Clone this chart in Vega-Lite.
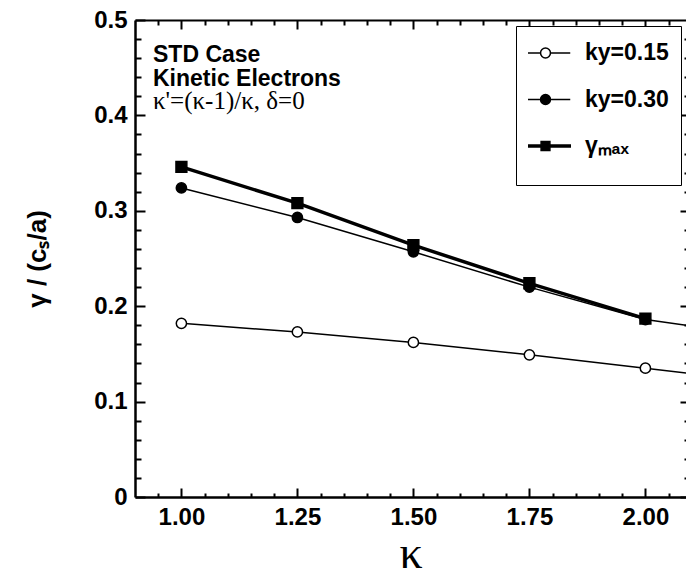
{
  "$schema": "https://vega.github.io/schema/vega-lite/v6.json",
  "width": 551,
  "height": 477,
  "autosize": "none",
  "padding": {"left": 135, "top": 20, "right": 0, "bottom": 74},
  "config": {
    "view": {"stroke": null},
    "font": "Liberation Sans",
    "axis": {
      "grid": false,
      "domainColor": "black",
      "tickColor": "black",
      "labelColor": "black",
      "titleColor": "black",
      "tickWidth": 2
    }
  },
  "title": {
    "text": ["STD Case", "Kinetic Electrons"],
    "subtitle": "κ'=(κ-1)/κ, δ=0",
    "anchor": "start",
    "frame": "group",
    "orient": "top",
    "dx": 18,
    "dy": 110,
    "font": "Liberation Sans",
    "fontSize": 23,
    "fontWeight": "bold",
    "lineHeight": 24,
    "color": "black",
    "subtitleFont": "Liberation Serif",
    "subtitleFontSize": 25,
    "subtitleColor": "black",
    "subtitlePadding": -2
  },
  "data": {
    "values": [
      {"kappa": 1.0, "gamma": 0.182, "series": "ky=0.15"},
      {"kappa": 1.25, "gamma": 0.173, "series": "ky=0.15"},
      {"kappa": 1.5, "gamma": 0.162, "series": "ky=0.15"},
      {"kappa": 1.75, "gamma": 0.149, "series": "ky=0.15"},
      {"kappa": 2.0, "gamma": 0.135, "series": "ky=0.15"},
      {"kappa": 2.25, "gamma": 0.121, "series": "ky=0.15"},
      {"kappa": 1.0, "gamma": 0.324, "series": "ky=0.30"},
      {"kappa": 1.25, "gamma": 0.293, "series": "ky=0.30"},
      {"kappa": 1.5, "gamma": 0.257, "series": "ky=0.30"},
      {"kappa": 1.75, "gamma": 0.22, "series": "ky=0.30"},
      {"kappa": 2.0, "gamma": 0.186, "series": "ky=0.30"},
      {"kappa": 2.25, "gamma": 0.169, "series": "ky=0.30"},
      {"kappa": 1.0, "gamma": 0.346, "series": "γmax"},
      {"kappa": 1.25, "gamma": 0.308, "series": "γmax"},
      {"kappa": 1.5, "gamma": 0.264, "series": "γmax"},
      {"kappa": 1.75, "gamma": 0.224, "series": "γmax"},
      {"kappa": 2.0, "gamma": 0.187, "series": "γmax"}
    ]
  },
  "layer": [
    {
      "transform": [{"filter": "datum.series !== 'γmax'"}],
      "mark": {"type": "line", "clip": true, "color": "black", "strokeWidth": 1.5},
      "encoding": {
        "x": {
          "field": "kappa",
          "type": "quantitative",
          "scale": {"domain": [0.9, 2.0875], "nice": false, "zero": false},
          "axis": {
            "orient": "bottom",
            "values": [0.95, 1.0, 1.05, 1.1, 1.15, 1.2, 1.25, 1.3, 1.35, 1.4, 1.45, 1.5, 1.55, 1.6, 1.65, 1.7, 1.75, 1.8, 1.85, 1.9, 1.95, 2.0, 2.05],
            "labelExpr": "abs(datum.value * 4 - round(datum.value * 4)) < 0.001 ? format(datum.value, '.2f') : ''",
            "tickSize": {"condition": {"test": "abs(datum.value * 4 - round(datum.value * 4)) < 0.001", "value": -9}, "value": -4},
            "domainWidth": 2.5,
            "labelFont": "Liberation Sans",
            "labelFontSize": 24,
            "labelFontWeight": "bold",
            "labelPadding": 17,
            "labelFlush": false,
            "title": "κ",
            "titleFont": "Liberation Serif",
            "titleFontSize": 46,
            "titleFontWeight": "normal",
            "titlePadding": 2
          }
        },
        "y": {
          "field": "gamma",
          "type": "quantitative",
          "scale": {"domain": [0, 0.5], "nice": false},
          "axis": {
            "orient": "left",
            "values": [0, 0.02, 0.04, 0.06, 0.08, 0.1, 0.12, 0.14, 0.16, 0.18, 0.2, 0.22, 0.24, 0.26, 0.28, 0.3, 0.32, 0.34, 0.36, 0.38, 0.4, 0.42, 0.44, 0.46, 0.48, 0.5],
            "labelExpr": "abs(datum.value * 10 - round(datum.value * 10)) < 0.001 ? (datum.value == 0 ? '0' : format(datum.value, '.1f')) : ''",
            "tickSize": {"condition": {"test": "abs(datum.value * 10 - round(datum.value * 10)) < 0.001", "value": -10}, "value": -6},
            "domainWidth": 2.5,
            "labelFont": "Liberation Sans",
            "labelFontSize": 24,
            "labelFontWeight": "bold",
            "labelPadding": 18,
            "labelFlush": false,
            "title": "γ / (cₛ/a)",
            "titleFont": "Liberation Sans",
            "titleFontSize": 26,
            "titleFontWeight": "bold",
            "titlePadding": 43
          }
        },
        "detail": {"field": "series"}
      }
    },
    {
      "transform": [{"filter": "datum.series === 'γmax'"}],
      "mark": {"type": "line", "clip": true, "color": "black", "strokeWidth": 3.5},
      "encoding": {
        "x": {"field": "kappa", "type": "quantitative", "axis": null},
        "y": {"field": "gamma", "type": "quantitative", "axis": null}
      }
    },
    {
      "transform": [{"filter": "datum.series !== 'γmax'"}],
      "mark": {"type": "point", "shape": "circle", "clip": true, "filled": true, "stroke": "black", "strokeWidth": 1.5, "opacity": 1, "size": 105},
      "encoding": {
        "x": {"field": "kappa", "type": "quantitative", "axis": {
          "orient": "top",
          "values": [0.95, 1.0, 1.05, 1.1, 1.15, 1.2, 1.25, 1.3, 1.35, 1.4, 1.45, 1.5, 1.55, 1.6, 1.65, 1.7, 1.75, 1.8, 1.85, 1.9, 1.95, 2.0, 2.05],
          "labels": false,
          "title": null,
          "tickSize": {"condition": {"test": "abs(datum.value * 4 - round(datum.value * 4)) < 0.001", "value": -9}, "value": -5},
          "domainWidth": 2
        }},
        "y": {"field": "gamma", "type": "quantitative", "axis": {
          "orient": "right",
          "offset": 4,
          "values": [0, 0.02, 0.04, 0.06, 0.08, 0.1, 0.12, 0.14, 0.16, 0.18, 0.2, 0.22, 0.24, 0.26, 0.28, 0.3, 0.32, 0.34, 0.36, 0.38, 0.4, 0.42, 0.44, 0.46, 0.48],
          "labels": false,
          "title": null,
          "tickSize": {"condition": {"test": "abs(datum.value * 10 - round(datum.value * 10)) < 0.001", "value": -10}, "value": -6},
          "domainWidth": 2
        }},
        "fill": {"condition": {"test": "datum.series === 'ky=0.15'", "value": "white"}, "value": "black"}
      }
    },
    {
      "transform": [{"filter": "datum.series === 'γmax'"}],
      "mark": {"type": "point", "shape": "square", "clip": true, "filled": true, "color": "black", "stroke": "black", "strokeWidth": 1.5, "opacity": 1, "size": 118},
      "encoding": {
        "x": {"field": "kappa", "type": "quantitative", "axis": null},
        "y": {"field": "gamma", "type": "quantitative", "axis": null}
      }
    },
    {
      "transform": [{"filter": "datum.kappa > 2.1"}],
      "mark": {"type": "point", "clip": true, "filled": true, "stroke": "black", "strokeWidth": 1.5, "opacity": 1},
      "encoding": {
        "x": {"field": "kappa", "type": "quantitative", "axis": null},
        "y": {"field": "gamma", "type": "quantitative", "axis": null},
        "shape": {
          "field": "series",
          "type": "nominal",
          "scale": {
            "domain": ["ky=0.15", "ky=0.30", "γmax"],
            "range": [
              "M-4.5,0H-0.9M0.9,0H4.5M-0.9,0A0.9,0.9,0,1,1,0.9,0A0.9,0.9,0,1,1,-0.9,0Z",
              "M-4.5,0H-0.9M0.9,0H4.5M-0.9,0A0.9,0.9,0,1,1,0.9,0A0.9,0.9,0,1,1,-0.9,0Z",
              "M-4.5,-0.2H-0.8V-0.8H0.8V-0.2H4.5V0.2H0.8V0.8H-0.8V0.2H-4.5Z"
            ]
          },
          "legend": {
            "title": " ",
            "titleOrient": "bottom",
            "titleFontSize": 10,
            "titlePadding": 2,
            "orient": "none",
            "legendX": 381,
            "legendY": 6,
            "fillColor": "white",
            "strokeColor": "black",
            "padding": 12,
            "rowPadding": 16.5,
            "clipHeight": 30,
            "symbolSize": 121,
            "symbolOffset": 6,
            "labelOffset": 28,
            "labelFont": "Liberation Sans",
            "labelFontSize": 23,
            "labelFontWeight": "bold",
            "labelColor": "black",
            "labelLimit": 300,
            "labelExpr": "datum.value === 'γmax' ? 'γₘₐₓ' : datum.label",
            "encode": {"legend": {"strokeWidth": {"value": 2}}}
          }
        },
        "fill": {
          "field": "series",
          "type": "nominal",
          "scale": {"domain": ["ky=0.15", "ky=0.30", "γmax"], "range": ["white", "black", "black"]},
          "legend": {
            "title": " ",
            "titleOrient": "bottom",
            "titleFontSize": 10,
            "titlePadding": 2,
            "orient": "none",
            "legendX": 381,
            "legendY": 6,
            "fillColor": "white",
            "strokeColor": "black",
            "padding": 12,
            "rowPadding": 16.5,
            "clipHeight": 30,
            "symbolSize": 121,
            "symbolOffset": 6,
            "labelOffset": 28,
            "labelFont": "Liberation Sans",
            "labelFontSize": 23,
            "labelFontWeight": "bold",
            "labelColor": "black",
            "labelLimit": 300,
            "labelExpr": "datum.value === 'γmax' ? 'γₘₐₓ' : datum.label",
            "encode": {"legend": {"strokeWidth": {"value": 2}}}
          }
        }
      }
    }
  ],
  "resolve": {"axis": {"x": "independent", "y": "independent"}}
}
